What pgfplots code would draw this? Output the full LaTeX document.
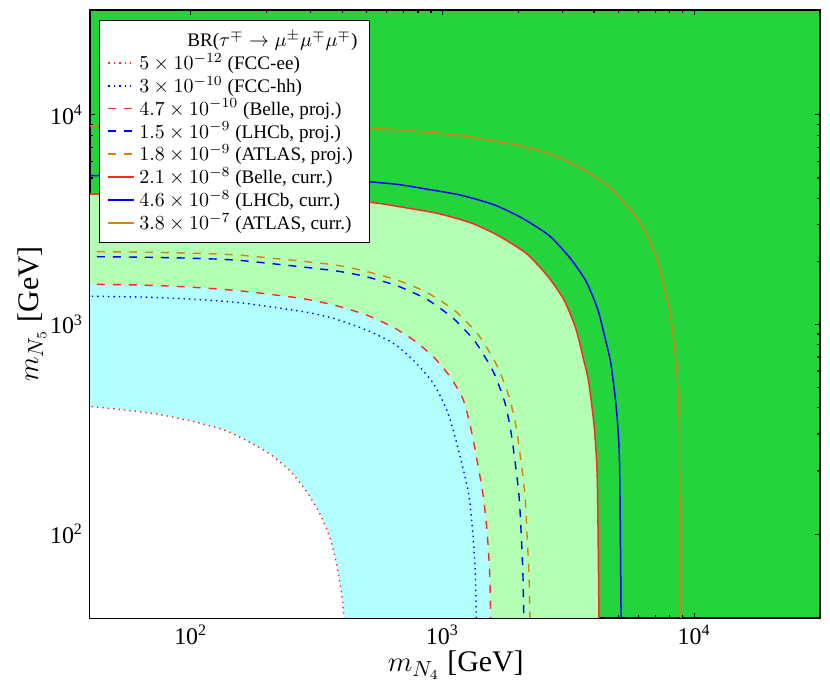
\documentclass[border=0pt]{standalone}
\usepackage{fontspec}
\setmainfont{Liberation Serif}
\usepackage{pgfplots}
\pgfplotsset{compat=1.18}

\definecolor{dkgreen}{RGB}{36,212,60}
\definecolor{ltgreen}{RGB}{179,255,179}
\definecolor{ltcyan}{RGB}{179,255,255}
\definecolor{cred}{RGB}{255,40,40}
\definecolor{cblue}{RGB}{0,0,255}
\definecolor{corange}{RGB}{212,130,20}

\DeclareRobustCommand{\brtitle}{BR(\ensuremath{\tau^{\mp}\rightarrow\mu^{\pm}\mu^{\mp}\mu^{\mp}})}
\DeclareRobustCommand{\sci}[2]{\ensuremath{#1\times10^{#2}}}
\DeclareRobustCommand{\mlab}[1]{\ensuremath{m_{N_{#1}}}}

\pgfplotsset{
  dotline/.style={line width=0.7bp, dash pattern=on 0.7bp off 2bp, smooth, tension=0.4},
  dashline/.style={line width=0.7bp, dash pattern=on 4bp off 4bp, smooth, tension=0.4},
  fullline/.style={line width=0.75bp, smooth, tension=0.4},
  region/.style={draw=none, forget plot, smooth, tension=0.4},
}

\begin{document}
\begin{tikzpicture}
\useasboundingbox (-45bp,-38.5bp) rectangle (370bp,309bp);
\begin{axis}[
  xmode=log, ymode=log,
  scale only axis, width=365bp, height=304bp,
  at={(0,0)}, anchor=south west,
  xmin=39.81, xmax=31623, ymin=39.81, ymax=31623,
  axis background/.style={fill=dkgreen},
  xtick={100,1000,10000},
  xticklabels={10\textsuperscript{2},10\textsuperscript{3},10\textsuperscript{4}},
  ytick={100,1000,10000},
  yticklabels={10\textsuperscript{2},10\textsuperscript{3},10\textsuperscript{4}},
  tick align=inside,
  major tick length=2.6bp, minor tick length=1.5bp,
  every tick/.style={black, line width=0.6bp},
  axis line style={line width=0.8bp},
  tick label style={font=\fontsize{12}{14}\selectfont},
  label style={font=\fontsize{15}{17}\selectfont},
  xlabel={\mlab{4} [GeV]},
  ylabel={\mlab{5} [GeV]},
  xlabel style={at={(axis description cs:0.501,-0.077)}, anchor=center},
  ylabel style={at={(axis description cs:-0.0795,0.5)}, anchor=center, rotate=0},
  legend cell align=left,
  legend style={at={(0.012,0.984)}, anchor=north west, draw=black,
    line width=0.8bp, fill=white, font=\fontsize{9.6}{10.5}\selectfont,
    nodes={inner ysep=2.2bp}, row sep=-2.6bp, inner xsep=4bp, inner ysep=3bp},
  legend image code/.code={\draw[#1, line width=0.9bp] (0bp,0bp) -- (13bp,0bp);},
]

% filled regions
\addplot[fill=ltgreen, region] coordinates {
(26.67,4198)(168.3,4130)(314.8,4018)(532.1,3811)(711.2,3606)(963.9,3381)(1309,3041)(1683,2636)(2168,2168)(2636,1683)(3041,1309)(3381,963.9)(3606,711.2)(3811,532.1)(4018,314.8)(4130,168.3)(4198,26.67)(4200,3)(3,3)(3,4200)
};
\addplot[fill=ltcyan, region] coordinates {
(31.6,1560)(63.1,1542)(100,1507)(158.5,1445)(271.6,1334)(369,1239)(500,1109)(638.3,968.3)(767.4,843.3)(920.4,701.5)(1072,563.7)(1211,436.5)(1309,302.7)(1445,158.5)(1507,100)(1542,63.1)(1560,31.6)(1562,3)(3,3)(3,1562)
};
\addplot[fill=white, region] coordinates {
(31.6,417)(39.8,406.4)(53.95,391.7)(73.28,374.1)(99.3,347.5)(134.9,314.8)(167.1,279.3)(206.5,241.0)(248.3,200.0)(289.1,159.2)(326.6,124.5)(358.1,95.5)(380.2,71.3)(398.1,51.3)(406.4,39.8)(411,31.6)(412,3)(3,3)(3,418)
};

\addlegendimage{empty legend}
\addlegendentry{\hspace{24bp}\brtitle}

% FCC-ee
\addplot[draw=cred, dotline] coordinates {
(31.6,417)(39.8,406.4)(53.95,391.7)(73.28,374.1)(99.3,347.5)(134.9,314.8)(167.1,279.3)(206.5,241.0)(248.3,200.0)(289.1,159.2)(326.6,124.5)(358.1,95.5)(380.2,71.3)(398.1,51.3)(406.4,39.8)(411,31.6)
};
\addlegendentry{\sci{5}{-12} (FCC-ee)}

% FCC-hh
\addplot[draw=cblue, dotline] coordinates {
(31.6,1368)(63.1,1352)(100,1321)(158.5,1268)(279.9,1151)(369,1069)(500,939.8)(638.3,812.8)(765.6,676.1)(920.4,523.6)(1040,390.8)(1122,291.7)(1268,158.5)(1321,100)(1352,63.1)(1368,31.6)
};
\addlegendentry{\sci{3}{-10} (FCC-hh)}

% Belle proj
\addplot[draw=cred, dashline] coordinates {
(31.6,1560)(63.1,1542)(100,1507)(158.5,1445)(271.6,1334)(369,1239)(500,1109)(638.3,968.3)(767.4,843.3)(920.4,701.5)(1072,563.7)(1211,436.5)(1309,302.7)(1445,158.5)(1507,100)(1542,63.1)(1560,31.6)
};
\addlegendentry{\sci{4.7}{-10} (Belle, proj.)}

% LHCb proj
\addplot[draw=cblue, dashline] coordinates {
(31.6,2113)(63.1,2094)(100,2070)(158.5,2018)(358.1,1816)(485.3,1702)(659.2,1531)(866.9,1318)(1104,1069)(1349,827.9)(1592,595.7)(1774,420.7)(1884,291.7)(2009,158.5)(2056,100)(2089,63.1)(2113,31.6)
};
\addlegendentry{\sci{1.5}{-9} (LHCb, proj.)}

% ATLAS proj
\addplot[draw=corange, dashline] coordinates {
(31.6,2234)(63.1,2213)(100,2188)(158.5,2138)(358.1,1936)(485.3,1803)(659.2,1629)(866.9,1422)(1122,1161)(1390,891.3)(1644,639.7)(1832,460.3)(1972,314.1)(2123,158.5)(2168,100)(2208,63.1)(2234,31.6)
};
\addlegendentry{\sci{1.8}{-9} (ATLAS, proj.)}

% Belle curr
\addplot[draw=cred, fullline] coordinates {
(26.67,4198)(168.3,4130)(314.8,4018)(532.1,3811)(711.2,3606)(963.9,3381)(1309,3041)(1683,2636)(2168,2168)(2636,1683)(3041,1309)(3381,963.9)(3606,711.2)(3811,532.1)(4018,314.8)(4130,168.3)(4198,26.67)
};
\addlegendentry{\sci{2.1}{-8} (Belle, curr.)}

% LHCb curr
\addplot[draw=cblue, fullline] coordinates {
(26,5140)(206.1,5058)(385.5,4920)(651.6,4667)(871.0,4416)(1180,4140)(1603,3724)(2061,3228)(2655,2655)(3228,2061)(3724,1603)(4140,1180)(4416,871.0)(4667,651.6)(4920,385.5)(5058,206.1)(5140,26)
};
\addlegendentry{\sci{4.6}{-8} (LHCb, curr.)}

% ATLAS curr
\addplot[draw=corange, fullline] coordinates {
(26,8870)(56.23,8851)(354.8,8710)(663.7,8472)(1122,8035)(1500,7603)(2032,7129)(2761,6412)(3548,5559)(4571,4571)(5559,3548)(6412,2761)(7129,2032)(7603,1500)(8035,1122)(8472,663.7)(8710,354.8)(8851,56.23)(8870,26)
};
\addlegendentry{\sci{3.8}{-7} (ATLAS, curr.)}

\end{axis}
\end{tikzpicture}
\end{document}
